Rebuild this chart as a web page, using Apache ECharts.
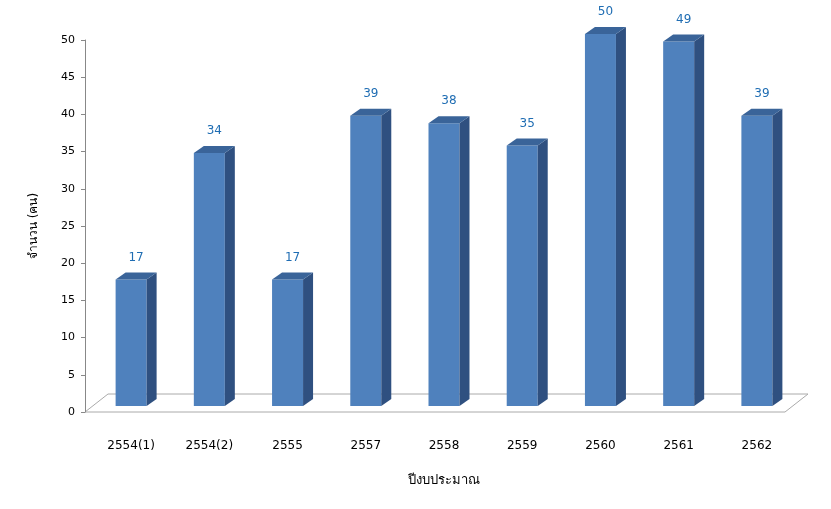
<!DOCTYPE html>
<html>
<head>
<meta charset="utf-8">
<script src="https://cdn.jsdelivr.net/npm/echarts@6/dist/echarts.min.js"></script>
<style>html,body{margin:0;padding:0;background:#fff}#chart{width:831px;height:509px}</style>
</head>
<body>
<div id="chart"></div>
<script>
const categories = ["2554(1)", "2554(2)", "2555", "2557", "2558", "2559", "2560", "2561", "2562"];
const counts = [17, 34, 17, 39, 38, 35, 50, 49, 39];
const yTicks = { min: 0, max: 50, interval: 5 };

const FONT = "Tahoma, 'DejaVu Sans', 'Noto Sans', sans-serif";
const BAR_W = 31, DX = 10, DY = 7, LIFT = 6;

const chart = echarts.init(document.getElementById("chart"));

function renderBar(params, api) {
  const top = api.coord([api.value(0), api.value(1)]);
  const base = api.coord([api.value(0), 0]);
  const x0 = top[0] - BAR_W / 2, x1 = top[0] + BAR_W / 2;
  const yt = top[1] - LIFT, yb = base[1] - LIFT;
  return {
    type: "group",
    children: [
      { type: "rect", shape: { x: x0, y: yt, width: BAR_W, height: yb - yt }, style: { fill: "#4f81bd" } },
      { type: "polygon", shape: { points: [[x1, yt], [x1 + DX, yt - DY], [x1 + DX, yb - DY], [x1, yb]] }, style: { fill: "#2f5080" } },
      { type: "polygon", shape: { points: [[x0, yt], [x0 + DX, yt - DY], [x1 + DX, yt - DY], [x1, yt]] }, style: { fill: "#3a6499" } },
      { type: "text", style: { text: String(api.value(1)), x: top[0] + 5, y: yt - 16, align: "center", verticalAlign: "bottom", fill: "#1f6db3", font: "12px " + FONT } }
    ]
  };
}

chart.setOption({
  animation: false,
  grid: { left: 92, right: 35, top: 40, bottom: 97 },
  graphic: [{
    type: "polygon", z: 0,
    shape: { points: [[85, 412], [108, 394], [808, 394], [785, 412]] },
    style: { fill: "#fff", stroke: "#aaa", lineWidth: 1 }
  }],
  xAxis: {
    type: "category",
    data: categories,
    axisLine: { show: false },
    axisTick: { show: false },
    axisLabel: { margin: 28, color: "#000", fontFamily: FONT, fontSize: 12 },
    name: "ปีงบประมาณ",
    nameLocation: "middle",
    nameGap: 62,
    nameTextStyle: { color: "#000", fontFamily: FONT, fontSize: 13 }
  },
  yAxis: {
    type: "value",
    min: yTicks.min, max: yTicks.max, interval: yTicks.interval,
    offset: 7,
    axisLine: { show: true, lineStyle: { color: "#888" } },
    axisTick: { show: true, length: 4, lineStyle: { color: "#888" } },
    splitLine: { show: false },
    axisLabel: { color: "#000", fontFamily: FONT, fontSize: 11, margin: 10 },
    name: "จำนวน (คน)",
    nameLocation: "middle",
    nameGap: 45,
    nameTextStyle: { color: "#000", fontFamily: FONT, fontSize: 12 }
  },
  series: [{
    type: "custom",
    renderItem: renderBar,
    data: counts.map((v, i) => [i, v]),
    z: 5
  }]
});
</script>
</body>
</html>
